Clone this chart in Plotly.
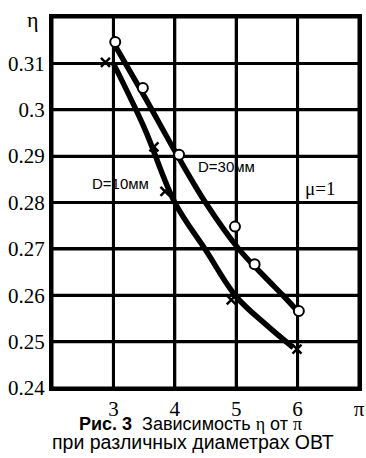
import plotly.graph_objects as go

# Experimental points
pi_d30 = [3.03, 3.48, 4.07, 4.98, 5.30, 6.02]
eta_d30 = [0.3146, 0.3047, 0.2903, 0.2748, 0.2667, 0.2566]
pi_d10 = [2.87, 3.66, 3.84, 4.92, 5.99]
eta_d10 = [0.3102, 0.2920, 0.2824, 0.2590, 0.2484]

# Fitted curves
curve30_x = [3.02, 3.5, 4.04, 4.5, 5.04, 5.5, 5.76, 5.97]
curve30_y = [0.3140, 0.3030, 0.2902, 0.2800, 0.2700, 0.2635, 0.2600, 0.2570]
curve10_x = [3.0, 3.5, 4.0, 4.5, 5.0, 5.5, 5.93]
curve10_y = [0.3100, 0.2962, 0.2800, 0.2698, 0.2597, 0.2535, 0.2487]

x_range = [2, 7]
y_range = [0.24, 0.32]
x_ticks = [3, 4, 5, 6, 7]
x_ticktext = ["3", "4", "5", "6", "π"]
y_ticks = [0.24, 0.25, 0.26, 0.27, 0.28, 0.29, 0.30, 0.31]
y_ticktext = ["0.24", "0.25", "0.26", "0.27", "0.28", "0.29", "0.3", "0.31"]

serif = "Liberation Serif"
sans = "Liberation Sans"

# grid built from the tick arrays
gx, gy = [], []
for t in x_ticks:
    if x_range[0] < t < x_range[1]:
        gx += [t, t, None]
        gy += [y_range[0], y_range[1], None]
for t in y_ticks:
    if y_range[0] < t < y_range[1]:
        gx += [x_range[0], x_range[1], None]
        gy += [t, t, None]
frame_x = [x_range[0], x_range[1], x_range[1], x_range[0], x_range[0]]
frame_y = [y_range[0], y_range[0], y_range[1], y_range[1], y_range[0]]

fig = go.Figure()
fig.add_trace(go.Scatter(x=gx, y=gy, mode="lines", line=dict(color="black", width=3),
                         hoverinfo="skip", showlegend=False))
fig.add_trace(go.Scatter(x=frame_x, y=frame_y, mode="lines", cliponaxis=False,
                         line=dict(color="black", width=3),
                         hoverinfo="skip", showlegend=False))
fig.add_trace(go.Scatter(x=curve30_x, y=curve30_y, mode="lines",
                         line=dict(color="black", width=5.5, shape="spline", smoothing=1.0),
                         hoverinfo="skip", showlegend=False))
fig.add_trace(go.Scatter(x=curve10_x, y=curve10_y, mode="lines",
                         line=dict(color="black", width=5.5, shape="spline", smoothing=1.0),
                         hoverinfo="skip", showlegend=False))
fig.add_trace(go.Scatter(x=pi_d30, y=eta_d30, mode="markers",
                         marker=dict(symbol="circle", size=10, color="white",
                                     line=dict(color="black", width=2)),
                         showlegend=False))
fig.add_trace(go.Scatter(x=pi_d10, y=eta_d10, mode="markers",
                         marker=dict(symbol="x-thin", size=9,
                                     line=dict(color="black", width=2.5)),
                         showlegend=False))

fig.update_layout(
    width=366, height=458,
    margin=dict(l=52, r=7, t=17, b=70, autoexpand=False),
    font=dict(family=serif, size=21, color="black"),
    paper_bgcolor="white", plot_bgcolor="white", showlegend=False,
    xaxis=dict(range=x_range, tickvals=x_ticks, ticktext=x_ticktext,
               showgrid=True, gridcolor="black", gridwidth=3,
               showline=True, linecolor="black", linewidth=3, mirror=True,
               zeroline=False, ticks="", automargin=False,
               tickfont=dict(family=serif, size=21, color="black")),
    yaxis=dict(range=y_range, tickvals=y_ticks, ticktext=y_ticktext,
               showgrid=True, gridcolor="black", gridwidth=3,
               showline=True, linecolor="black", linewidth=3, mirror=True,
               zeroline=False, ticks="", automargin=False,
               tickfont=dict(family=serif, size=21, color="black")),
)

fig.add_annotation(x=3.11, y=0.2840, text="D=10мм", showarrow=False,
                   font=dict(family=sans, size=15, color="black"))
fig.add_annotation(x=4.85, y=0.2877, text="D=30мм", showarrow=False,
                   font=dict(family=sans, size=15, color="black"))
fig.add_annotation(x=6.37, y=0.2831, text="μ=1", showarrow=False,
                   font=dict(family=serif, size=19, color="black"))
fig.add_annotation(x=-0.062, y=0.3195, xref="paper", yref="y", text="η",
                   showarrow=False, xanchor="center",
                   font=dict(family=serif, size=22, color="black"))
fig.add_annotation(x=0.45, y=-0.097, xref="paper", yref="paper",
                   xanchor="center", yanchor="middle", showarrow=False,
                   text="<b>Рис. 3</b>  Зависимость <span style='font-family:Liberation Serif'>η</span> от <span style='font-family:Liberation Serif'>π</span>",
                   font=dict(family=sans, size=18, color="black"))
fig.add_annotation(x=0.46, y=-0.146, xref="paper", yref="paper",
                   xanchor="center", yanchor="middle", showarrow=False,
                   text="при различных диаметрах ОВТ",
                   font=dict(family=sans, size=19.5, color="black"))

fig.write_html(
    "out.html",
    config={"responsive": False, "displayModeBar": False},
    post_script="document.documentElement.style.overflow='hidden';"
                "document.body.style.overflow='hidden';"
                "document.body.style.margin='0';",
)
